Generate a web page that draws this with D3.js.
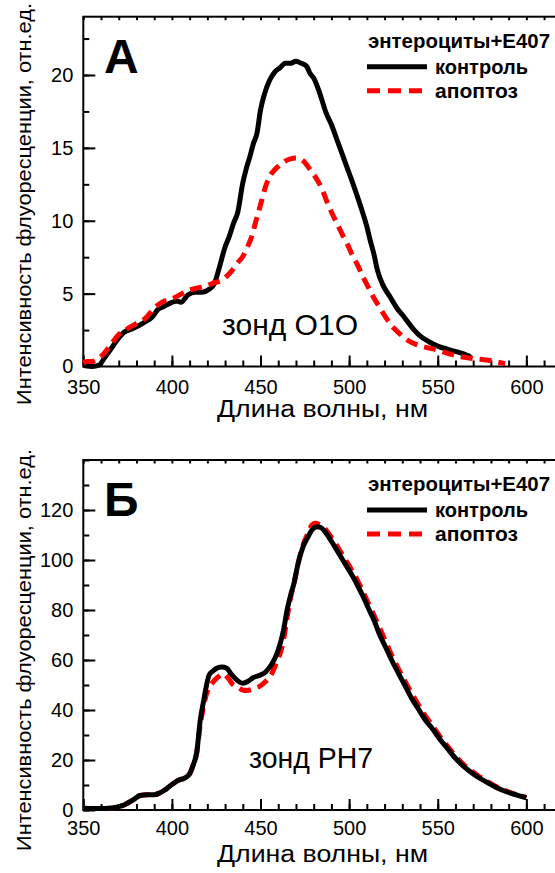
<!DOCTYPE html>
<html><head><meta charset="utf-8">
<script src="https://cdn.jsdelivr.net/npm/d3@7"></script>
<style>
html,body{margin:0;padding:0;background:#fff;}
svg{display:block;font-family:"Liberation Sans",Arial,sans-serif;}
</style></head>
<body>
<svg id="chart" width="555" height="873"></svg>
<script>
// ---- data ----
const xMajorTicks = [350, 400, 450, 500, 550, 600];
const topYTicks = [0, 5, 10, 15, 20];
const bottomYTicks = [0, 20, 40, 60, 80, 100, 120];
const legendTitle = "энтероциты+E407";
const seriesNames = ["контроль", "апоптоз"];
const panelLetters = ["А", "Б"];
const probeLabels = ["зонд О1О", "зонд РН7"];
const xTitle = "Длина волны, нм";
const yTitle = "Интенсивность флуоресценции, отн.ед.";

// panel A (O1O): control
const aControlNm  = [351,355,359,362,365,369,373,378,384,389,392,395,400,403,405,409,413,417,421,424,427,430,432,435,437,440,442,444,446,448,450,452,455,458,461,464,467,470,473,476,478,480,483,487,490,493,496,499,502,504,507,510,512,514,516,519,523,527,531,536,540,545,550,555,561,565,568,569];
const aControlVal = [0.05,0.0,0.1,0.6,1.1,1.8,2.35,2.6,3.0,3.4,3.9,4.1,4.4,4.5,4.4,4.9,5.1,5.1,5.3,5.7,6.9,8.2,8.8,9.9,10.5,12.6,13.6,14.4,15.3,16.0,17.6,18.6,19.6,20.2,20.5,20.8,20.8,20.95,20.8,20.6,20.1,19.8,18.9,17.4,16.6,15.6,14.6,13.6,12.6,11.9,10.8,9.6,8.6,7.7,6.6,5.6,4.8,4.0,3.4,2.6,2.1,1.7,1.4,1.2,1.0,0.85,0.7,0.8];
// panel A (O1O): apoptosis
const aApoNm  = [350,352,355,358,361,365,370,375,380,385,390,395,400,405,410,415,420,424,428,431,434,437,440,443,445,447,450,453,456,458,461,464,467,470,473,475,478,482,485,487,490,493,496,499,502,505,508,511,514,517,520,524,529,533,538,544,550,557,564,570,575,580,584,588];
const aApoVal = [0.25,0.35,0.35,0.5,0.8,1.4,2.2,2.6,2.95,3.3,4.0,4.45,4.65,4.95,5.25,5.4,5.55,5.75,5.9,6.2,6.6,7.1,7.55,8.3,8.9,9.8,11.1,12.4,13.2,13.5,13.85,14.1,14.25,14.3,14.2,14.0,13.5,12.8,12.1,11.45,10.6,9.85,9.1,8.4,7.6,6.9,6.1,5.4,4.7,4.1,3.5,2.8,2.2,1.8,1.5,1.3,1.13,0.85,0.65,0.55,0.48,0.4,0.3,0.2];

// panel Б (PH7): control
const bControlNm  = [350,355,360,365,369,373,378,382,386,390,393,396,400,404,407,410,412,414,416,418,419,421,423,425,428,431,433,436,440,443,446,450,453,456,458,460,462,463,465,467,469,471,474,477,479,482,484,487,490,493,496,499,502,505,508,511,514,517,520,525,531,535,539,543,547,551,555,559,563,568,573,578,583,588,593,597,600];
const bControlVal = [0.7,0.6,0.6,0.7,1.2,2.0,4.0,5.8,6.1,6.1,6.8,8.0,10.2,12.0,12.7,14.5,18,23,36,44,48,54,55.5,56.6,57.2,56.7,54.8,52.4,50.7,51.5,53.0,54.0,55.3,58,60.5,64,69,72,80,86,91,98,105.3,109.5,112,113.3,113,110.7,107.5,104,100.5,97,93.5,89.5,85.2,80.5,76,70.5,66,58.5,50.5,45,40.5,36,32.5,28.5,25,21.5,18.5,15.5,13,11,9,7.5,6.3,5.5,4.9];
// panel Б (PH7): apoptosis
const bApoNm  = [350,355,360,365,369,373,378,382,386,390,393,396,400,404,407,410,412,414,416,418,420,423,426,429,432,434,437,440,442,446,450,453,455,457,459,461,463,465,467,469,471,474,477,479,481,483,486,489,492,495,498,501,504,507,510,513,516,519,524,530,535,539,543,547,551,555,559,563,568,573,578,583,588,593,597,600];
const bApoVal = [0.7,0.6,0.6,0.7,1.2,2.0,4.0,5.8,6.1,6.1,6.8,8.0,10.2,12.0,12.7,14.5,18,23,34,42,47.5,51,53.2,54.5,52.5,50.5,49.2,48,47.8,48.5,49.7,51.5,53,55.5,59,62.5,68,77,85,91,98,106,111,114,114.7,114.3,112.8,110,107,103.5,100,96.5,92.8,88.5,84,79.5,74.8,70,62,53.5,47,42.2,37.6,33.8,29.6,26,22.5,19.3,16.2,13.6,11.4,9.4,7.8,6.5,5.6,5.0];

// ---- drawing ----
const svg = d3.select("#chart");
svg.append("rect").attr("width",555).attr("height",873).attr("fill","#fff");

const left = 83.3, right = 561.8;
const x = d3.scaleLinear().domain([350, 620]).range([left, right]);
const FONT = "Liberation Sans, Arial, sans-serif";

function panel(cfg){
  const g = svg.append("g");
  const y = d3.scaleLinear().domain([0, cfg.yMax]).range([cfg.bottom, cfg.top]);
  const minorX = d3.range(350, 621, 10);
  const minorY = d3.range(0, cfg.yMax + 0.001, cfg.yMinor);
  const styleLines = s=>{s.select(".domain").remove(); s.selectAll("line").attr("stroke","#000").attr("stroke-width",2);};

  // minor ticks
  g.append("g").attr("transform",`translate(0,${cfg.bottom})`)
    .call(d3.axisBottom(x).tickValues(minorX).tickSize(-6).tickFormat("")).call(styleLines);
  g.append("g").attr("transform",`translate(${left},0)`)
    .call(d3.axisLeft(y).tickValues(minorY).tickSize(-6).tickFormat("")).call(styleLines);
  g.append("g").attr("transform",`translate(0,${cfg.top})`)
    .call(d3.axisTop(x).tickValues(minorX).tickSize(-3.5).tickFormat("")).call(styleLines);

  // major ticks + labels
  g.append("g").attr("transform",`translate(0,${cfg.bottom})`)
    .call(d3.axisBottom(x).tickValues(xMajorTicks).tickSize(-11).tickPadding(cfg.xPad))
    .call(s=>{styleLines(s);
      s.selectAll("text").attr("font-size",20).attr("fill","#000").attr("font-family",FONT);});
  g.append("g").attr("transform",`translate(${left},0)`)
    .call(d3.axisLeft(y).tickValues(cfg.yTicks).tickSize(-12).tickPadding(10))
    .call(s=>{styleLines(s);
      s.selectAll("text").attr("font-size",20).attr("fill","#000").attr("font-family",FONT);});

  // frame
  g.append("rect").attr("x",left).attr("y",cfg.top)
    .attr("width",right-left).attr("height",cfg.bottom-cfg.top)
    .attr("fill","none").attr("stroke","#000").attr("stroke-width",2);

  // curves
  const line = d3.line().x(d=>x(d[0])).y(d=>y(d[1])).curve(d3.curveMonotoneX);
  const ctrl = d3.zip(cfg.cNm, cfg.cVal);
  const apo = d3.zip(cfg.aNm, cfg.aVal);
  const drawCtrl = ()=>g.append("path").datum(ctrl).attr("d",line)
      .attr("fill","none").attr("stroke","#000").attr("stroke-width",5).attr("stroke-linejoin","round");
  const drawApo = ()=>g.append("path").datum(apo).attr("d",line)
      .attr("fill","none").attr("stroke","#ff0000").attr("stroke-width",5).attr("stroke-dasharray","12,7");
  if (cfg.redOnTop){ drawCtrl(); drawApo(); } else { drawApo(); drawCtrl(); }

  // letter
  g.append("text").attr("x",104).attr("y",cfg.top+56).attr("font-size",48).attr("font-weight","bold")
    .attr("fill","#000").text(cfg.letter);

  // probe label
  g.append("text").attr("x",cfg.probeX).attr("y",cfg.top+cfg.probeDy).attr("font-size",30)
    .attr("textLength",cfg.probeW).attr("lengthAdjust","spacingAndGlyphs")
    .attr("fill","#000").text(cfg.probe);

  // legend
  const ly = cfg.top;
  g.append("text").attr("x",368).attr("y",ly+31).attr("font-size",20).attr("font-weight","bold")
    .attr("textLength",182).attr("lengthAdjust","spacingAndGlyphs").attr("fill","#000").text(legendTitle);
  g.append("line").attr("x1",367).attr("x2",427).attr("y1",ly+50).attr("y2",ly+50)
    .attr("stroke","#000").attr("stroke-width",5);
  g.append("text").attr("x",435).attr("y",ly+57).attr("font-size",20).attr("font-weight","bold")
    .attr("textLength",93).attr("lengthAdjust","spacingAndGlyphs").attr("fill","#000").text(seriesNames[0]);
  g.append("line").attr("x1",367).attr("x2",427).attr("y1",ly+74).attr("y2",ly+74)
    .attr("stroke","#ff0000").attr("stroke-width",5).attr("stroke-dasharray","13,8");
  g.append("text").attr("x",435).attr("y",ly+81).attr("font-size",20).attr("font-weight","bold")
    .attr("textLength",83).attr("lengthAdjust","spacingAndGlyphs").attr("fill","#000").text(seriesNames[1]);

  // axis titles
  g.append("text").attr("x",217).attr("y",cfg.bottom+cfg.titleDy)
    .attr("font-size",23).attr("textLength",211).attr("lengthAdjust","spacingAndGlyphs")
    .attr("fill","#000").text(xTitle);
  g.append("text").attr("transform",`translate(31,${cfg.yTitleC}) rotate(-90)`).attr("text-anchor","middle")
    .attr("font-size",21).attr("textLength",402).attr("lengthAdjust","spacingAndGlyphs")
    .attr("fill","#000").text(yTitle);
}

panel({top:16.7, bottom:366.5, yMax:24, yMinor:2.5, yTicks:topYTicks, xPad:13, titleDy:50,
  cNm:aControlNm, cVal:aControlVal, aNm:aApoNm, aVal:aApoVal, redOnTop:true,
  letter:panelLetters[0], probe:probeLabels[0], probeX:222, probeDy:318, probeW:136, yTitleC:204});
panel({top:460, bottom:810, yMax:140, yMinor:10, yTicks:bottomYTicks, xPad:11, titleDy:52,
  cNm:bControlNm, cVal:bControlVal, aNm:bApoNm, aVal:bApoVal, redOnTop:false,
  letter:panelLetters[1], probe:probeLabels[1], probeX:249, probeDy:308, probeW:124, yTitleC:650});
</script>
</body></html>
